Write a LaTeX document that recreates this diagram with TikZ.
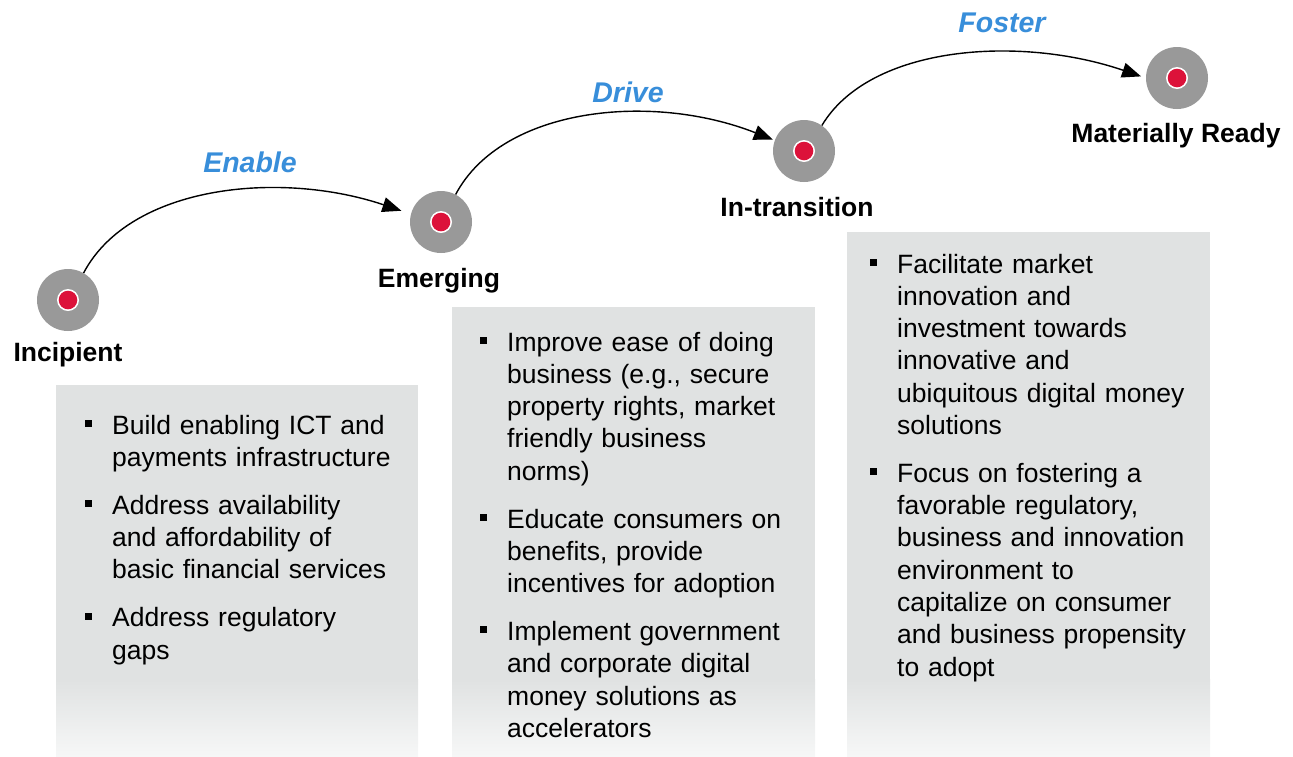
\documentclass[tikz,border=0pt]{standalone}
\usepackage{fontspec}
\setmainfont{Liberation Sans}
\usetikzlibrary{arrows.meta}
\definecolor{panelgray}{RGB}{224,226,226}
\definecolor{panellight}{RGB}{246,247,247}
\definecolor{ringgray}{RGB}{153,153,153}
\definecolor{dotred}{RGB}{220,18,58}
\definecolor{actblue}{RGB}{56,142,218}
\newcommand{\bitem}[1]{\par\hangindent=27pt\hangafter=1\noindent\strut\makebox[27pt][l]{\rule[7pt]{7pt}{7pt}}#1\par}
\newcommand{\itemgap}{\vspace{15.5pt}}
\tikzset{
  stage/.style={circle, fill=ringgray, minimum size=62pt, inner sep=0pt,
    path picture={\fill[white] (path picture bounding box.center) circle (11pt);
                  \fill[dotred] (path picture bounding box.center) circle (9.3pt);}},
  stagelabel/.style={font=\fontsize{26.5}{30}\selectfont\bfseries, text=black, inner sep=0pt, anchor=base},
  actlabel/.style={font=\fontsize{28.5}{32}\selectfont\bfseries\itshape, text=actblue, inner sep=0pt, anchor=base},
  conn/.style={line width=1.4pt, black, -{Triangle[length=19pt,width=15pt]}},
  listtext/.style={font=\fontsize{26.5}{32.3}\selectfont, text=black, inner sep=0pt, anchor=north west, text width=335pt},
}
\begin{document}
\begin{tikzpicture}[x=1pt,y=-1pt]
\useasboundingbox (0,0) rectangle (1293,756);
% panels
\fill[panelgray] (56,385) rectangle (418,680);
\shade[top color=panelgray, bottom color=panellight] (56,679.5) rectangle (418,756);
\fill[panelgray] (452,307) rectangle (815,680);
\shade[top color=panelgray, bottom color=panellight] (452,679.5) rectangle (815,756);
\fill[panelgray] (847,232) rectangle (1210,680);
\shade[top color=panelgray, bottom color=panellight] (847,679.5) rectangle (1210,756);
% stages
\node[stage] (s1) at (68,300) {};
\node[stage] (s2) at (441,222) {};
\node[stage] (s3) at (804,151) {};
\node[stage] (s4) at (1177,78) {};
\node[stagelabel] (l1) at (68,361) {Incipient};
\node[stagelabel] (l2) at (439,287) {Emerging};
\node[stagelabel] (l3) at (797,216) {In-transition};
\node[stagelabel] (l4) at (1176,142) {Materially Ready};
% action labels
\node[actlabel] (a1) at (250,172) {Enable};
\node[actlabel] (a2) at (628,102) {Drive};
\node[actlabel] (a3) at (1002,32) {Foster};
% connectors
\draw[conn, shorten >=10pt] (s1.60) .. controls (130,185) and (280,170) .. (s2.165);
\draw[conn, shorten >=2pt] (s2.62) .. controls (502,107) and (652,92) .. (s3.160);
\draw[conn, shorten >=5pt] (s3.55) .. controls (870,45) and (1020,35) .. (s4.180);
% texts
\node[listtext] (t1) at (85,401.75) {\raggedright\setlength{\parskip}{0pt}%
\bitem{Build enabling ICT and\newline payments infrastructure}\itemgap
\bitem{Address availability\newline and affordability of\newline basic financial services}\itemgap
\bitem{Address regulatory\newline gaps}};
\node[listtext] (t2) at (480,318.5) {\raggedright\setlength{\parskip}{0pt}%
\bitem{Improve ease of doing\newline business (e.g., secure\newline property rights, market\newline friendly business\newline norms)}\itemgap
\bitem{Educate consumers on\newline benefits, provide\newline incentives for adoption}\itemgap
\bitem{Implement government\newline and corporate digital\newline money solutions as\newline accelerators}};
\node[listtext] (t3) at (870,240.5) {\raggedright\setlength{\parskip}{0pt}%
\bitem{Facilitate market\newline innovation and\newline investment towards\newline innovative and\newline ubiquitous digital money\newline solutions}\itemgap
\bitem{Focus on fostering a\newline favorable regulatory,\newline business and innovation\newline environment to\newline capitalize on consumer\newline and business propensity\newline to adopt}};
\end{tikzpicture}
\end{document}
